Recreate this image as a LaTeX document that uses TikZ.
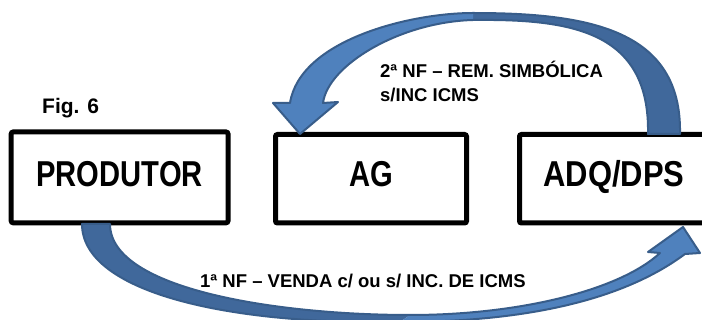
\documentclass[tikz,border=0pt]{standalone}
\usepackage{fontspec}
\setmainfont{Liberation Sans}
\newfontfamily\boxfont{Liberation Sans}[FakeStretch=0.81]
\newfontfamily\boxfontwide{Liberation Sans}[FakeStretch=0.86]
\definecolor{arrlight}{HTML}{4F81BD}
\definecolor{arrdark}{HTML}{40689B}
\definecolor{arrline}{HTML}{385D8A}
\tikzset{
  boxst/.style={draw=black, line width=5pt, rounded corners=2pt, inner sep=0pt},
  boxlbl/.style={inner sep=0pt, font=\boxfont\bfseries\fontsize{36}{40}\selectfont},
  boxlblw/.style={inner sep=0pt, font=\boxfontwide\bfseries\fontsize{36}{40}\selectfont},
  figlbl/.style={inner sep=0pt, font=\bfseries\fontsize{21}{24}\selectfont},
  arrlbl/.style={inner sep=0pt, font=\bfseries\fontsize{18.5}{22}\selectfont},
  arrline/.style={draw=arrline, line width=2pt, line join=round}
}
\begin{document}
\begin{tikzpicture}[x=1pt,y=-1pt]
\useasboundingbox (0,0) rectangle (702,320);
\clip (0,0) rectangle (702,320);
\fill[white] (0,0) rectangle (702,320);

% boxes
\node[boxst, minimum width=216.8pt, minimum height=90.8pt] (prod) at (119.6,177.4) {};
\node[boxst, minimum width=191pt, minimum height=88.5pt] (ag) at (371,178.75) {};
\node[boxst, minimum width=210.5pt, minimum height=88.5pt] (adq) at (624.75,178.75) {};

\node[boxlbl, anchor=base] (prodtxt) at (119.6,187) {PRODUTOR};
\node[boxlbl, anchor=base] (agtxt) at (371,187) {AG};
\node[boxlblw, anchor=base] (adqtxt) at (614,187) {ADQ/DPS};

\node[figlbl, anchor=base west] (fig) at (42,114) {Fig. 6};

% top curved arrow (ADQ/DPS -> AG)
\fill[arrdark] (680,134) .. controls (682,30) and (590,13) .. (473,13)
  -- (473,20) .. controls (570,19) and (650,30) .. (648,134) -- cycle;
\fill[arrlight] (473,13) .. controls (410,13) and (300,40) .. (290,103)
  -- (273,103) -- (300,134) -- (338,102) -- (323,103)
  .. controls (328,65) and (400,22) .. (473,20) -- cycle;
\draw[arrline] (680,134) .. controls (682,30) and (590,13) .. (473,13)
  .. controls (410,13) and (300,40) .. (290,103)
  -- (273,103) -- (300,134) -- (338,102) -- (323,103)
  .. controls (328,65) and (400,22) .. (473,20)
  .. controls (570,19) and (650,30) .. (648,134) -- cycle;

% bottom curved arrow (PRODUTOR -> ADQ/DPS)
\fill[arrdark] (82,224) .. controls (82,290) and (220,325) .. (400,322)
  -- (410,315) .. controls (280,315) and (110,290) .. (110,224) -- cycle;
\fill[arrlight] (400,322) .. controls (540,322) and (630,295) .. (685,254)
  -- (700,253) -- (683,227) -- (648,252) -- (660,253)
  .. controls (620,290) and (520,315) .. (410,315) -- cycle;
\draw[arrline] (82,224) .. controls (82,290) and (220,325) .. (400,322)
  .. controls (540,322) and (630,295) .. (685,254)
  -- (700,253) -- (683,227) -- (648,252) -- (660,253)
  .. controls (620,290) and (520,315) .. (410,315)
  .. controls (280,315) and (110,290) .. (110,224) -- cycle;

% labels
\node[arrlbl, anchor=base west] (rem1) at (380,78) {2ª NF – REM. SIMBÓLICA};
\node[arrlbl, anchor=base west] (rem2) at (380,102) {s/INC ICMS};
\node[arrlbl, anchor=base west] (venda) at (200,288) {1ª NF – VENDA c/ ou s/ INC. DE ICMS};
\end{tikzpicture}
\end{document}
